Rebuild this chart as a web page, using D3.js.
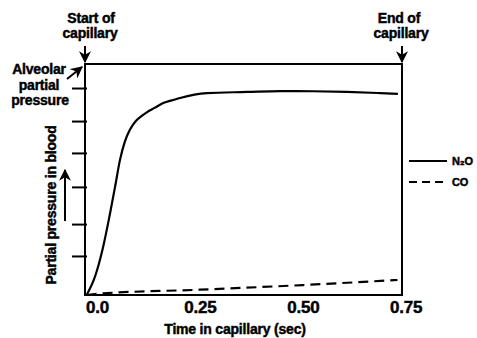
<!DOCTYPE html>
<html><head><meta charset="utf-8">
<script src="https://cdn.jsdelivr.net/npm/d3@7"></script>
<style>
html,body{margin:0;padding:0;background:#fff;}
text{font-family:"Liberation Sans",Arial,sans-serif;font-weight:bold;fill:#000;stroke:#000;stroke-width:0.45px;letter-spacing:-0.2px;}
</style></head>
<body><svg id="c" width="477" height="338"></svg>
<script>
// Data
const xTickValues = [0, 0.25, 0.5, 0.75];
const xTickLabels = ["0.0", "0.25", "0.50", "0.75"];
const yTickValues = [16.9, 30.7, 46.8, 61.5, 75.3, 89.6];
const n2oTime = [-0.025, -0.005, 0.015, 0.032, 0.044, 0.056, 0.068, 0.080, 0.093, 0.108, 0.122, 0.140, 0.161, 0.185, 0.202, 0.267, 0.365, 0.445, 0.525, 0.607, 0.688, 0.731];
const n2oValue = [0, 7.8, 20.8, 35.5, 46.8, 58.5, 66.5, 71.5, 75.0, 77.4, 79.2, 81.0, 83.1, 84.4, 85.3, 87.4, 87.9, 88.3, 88.2, 87.9, 87.4, 87.1];
const coTime = [-0.025, 0.0, 0.25, 0.5, 0.73];
const coValue = [0, 0.5, 2.3, 4.3, 6.5];
const seriesNames = ["N\u2082O", "CO"];

const svg = d3.select("#c");
const x = d3.scaleLinear().domain([-0.029, 0.741]).range([85, 402]);
const y = d3.scaleLinear().domain([0, 100]).range([295, 64]);

// markers
const defs = svg.append("defs");
defs.append("marker").attr("id","ah").attr("viewBox","0 0 10 10").attr("refX",9).attr("refY",5)
  .attr("markerWidth",6).attr("markerHeight",6).attr("orient","auto-start-reverse")
  .append("path").attr("d","M0,0 L10,5 L0,10 L3,5 Z").attr("fill","#000");

// y ticks
svg.append("g").attr("transform","translate(87,0)")
  .call(d3.axisLeft(y).tickValues(yTickValues).tickSize(15).tickFormat(""))
  .call(g=>g.select(".domain").remove())
  .call(g=>g.selectAll("line").attr("stroke","#000").attr("stroke-width",2));

// box
svg.append("rect").attr("x",x.range()[0]).attr("y",y.range()[1])
  .attr("width",x.range()[1]-x.range()[0]).attr("height",y.range()[0]-y.range()[1])
  .attr("fill","none").attr("stroke","#000").attr("stroke-width",2);

// x axis labels
const xa = svg.append("g").attr("transform","translate(0,295)")
  .call(d3.axisBottom(x).tickValues(xTickValues).tickSize(0).tickPadding(6)
    .tickFormat((d,i)=>xTickLabels[i]));
xa.select(".domain").remove();
xa.selectAll("text").style("font-size","17px").style("font-family","'Liberation Sans',Arial,sans-serif").style("font-weight","bold").attr("fill","#000");

// lines
const line = d3.line().x(d=>x(d[0])).y(d=>y(d[1])).curve(d3.curveMonotoneX);
svg.append("path").datum(n2oTime.map((t,i)=>[t,n2oValue[i]]))
  .attr("d",line).attr("fill","none").attr("stroke","#000").attr("stroke-width",2.2);
svg.append("path").datum(coTime.map((t,i)=>[t,coValue[i]]))
  .attr("d",line).attr("fill","none").attr("stroke","#000").attr("stroke-width",2.2).attr("stroke-dasharray","10,6");

// legend
const lg = svg.append("g");
lg.append("line").attr("x1",409).attr("x2",447).attr("y1",161).attr("y2",161).attr("stroke","#000").attr("stroke-width",2);
lg.append("line").attr("x1",409).attr("x2",447).attr("y1",182).attr("y2",182).attr("stroke","#000").attr("stroke-width",2).attr("stroke-dasharray","8,5");
lg.append("text").attr("x",452).attr("y",165).style("font-size","11px").text(seriesNames[0]);
lg.append("text").attr("x",452).attr("y",186).style("font-size","11px").text(seriesNames[1]);

// annotations
const ann = (tx,ty,s,anchor="middle",fs=14)=>svg.append("text").attr("x",tx).attr("y",ty)
  .attr("text-anchor",anchor).style("font-size",fs+"px").text(s);
ann(91,23,"Start of"); ann(90,38,"capillary");
ann(399,23,"End of"); ann(401,38,"capillary");
ann(39,74,"Alveolar"); ann(39,90,"partial"); ann(40,105,"pressure");
ann(235,334,"Time in capillary (sec)");
svg.append("text").attr("transform","translate(56,205) rotate(-90)").attr("text-anchor","middle")
  .style("font-size","14px").text("Partial pressure in blood");

const arrow=(x1,y1,x2,y2)=>svg.append("line").attr("x1",x1).attr("y1",y1).attr("x2",x2).attr("y2",y2)
  .attr("stroke","#000").attr("stroke-width",2).attr("marker-end","url(#ah)");
arrow(85,46,85,62);
arrow(402,46,402,62);
arrow(67,79,82,67);
arrow(65,221,65,170);
</script></body></html>
